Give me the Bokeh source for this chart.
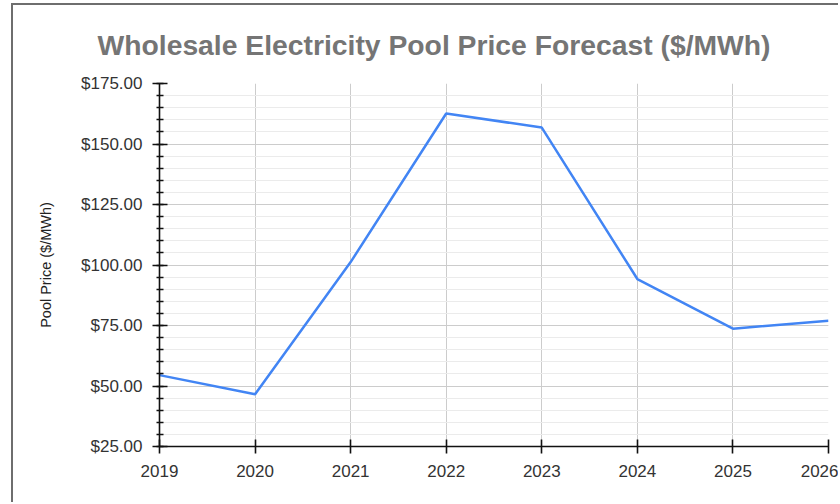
from bokeh.plotting import figure
from bokeh.models import FixedTicker, NumeralTickFormatter, Range1d
from bokeh.embed import file_html
from bokeh.resources import INLINE

years = [2019, 2020, 2021, 2022, 2023, 2024, 2025, 2026]
pool_price = [54.5, 46.6, 101.2, 162.6, 156.8, 94.2, 73.7, 77.0]
y_major_ticks = [25, 50, 75, 100, 125, 150, 175]
y_minor_ticks = [v for v in range(25, 176, 5)]

title_text = "Wholesale Electricity Pool Price Forecast ($/MWh)"
y_label = "Pool Price ($/MWh)"

FONT = "Liberation Sans"

p = figure(width=827, height=499, output_backend="svg", toolbar_location=None,
           x_range=Range1d(2019, 2026), y_range=Range1d(25, 175),
           min_border_left=146, min_border_right=12, min_border_top=78,
           min_border_bottom=58)
p.styles = {"margin-left": "11px", "margin-top": "3px",
            "border-left": "2px solid #6e6e6e",
            "border-top": "2px solid #6e6e6e"}
p.outline_line_color = None
p.background_fill_color = "white"
p.border_fill_color = "white"

p.title.text = title_text
p.title.text_font = FONT
p.title.text_font_size = "28.3px"
p.title.text_font_style = "bold"
p.title.text_color = "#757575"
p.title.align = "left"
p.title.vertical_align = "middle"
p.title.offset = -62
p.title.standoff = 43

p.line(years, pool_price, line_color="#4285F4", line_width=2.5)

# x axis
xa = p.xaxis[0]
xa.ticker = FixedTicker(ticks=years)
xa.major_tick_in = 7
xa.major_tick_out = 7
xa.minor_tick_in = 0
xa.minor_tick_out = 0
xa.axis_line_color = "#111111"
xa.axis_line_width = 1.6
xa.major_tick_line_color = "#111111"
xa.major_tick_line_width = 1.6
xa.major_label_text_font = FONT
xa.major_label_text_font_size = "17px"
xa.major_label_text_color = "#333333"
xa.major_label_standoff = 11

# y axis
ya = p.yaxis[0]
ya.ticker = FixedTicker(ticks=y_major_ticks, minor_ticks=y_minor_ticks)
ya.formatter = NumeralTickFormatter(format="$0.00")
ya.major_tick_in = 8
ya.major_tick_out = 7
ya.minor_tick_in = 4
ya.minor_tick_out = 3
ya.axis_line_color = "#111111"
ya.axis_line_width = 1.6
ya.major_tick_line_color = "#111111"
ya.major_tick_line_width = 1.6
ya.minor_tick_line_color = "#111111"
ya.minor_tick_line_width = 1.4
ya.major_label_text_font = FONT
ya.major_label_text_font_size = "17px"
ya.major_label_text_color = "#333333"
ya.major_label_standoff = 10
ya.axis_label = y_label
ya.axis_label_text_font = FONT
ya.axis_label_text_font_size = "14.5px"
ya.axis_label_text_font_style = "normal"
ya.axis_label_text_color = "#222222"
ya.axis_label_standoff = 24

p.xgrid.grid_line_color = "#cccccc"
p.ygrid.grid_line_color = "#cccccc"
p.ygrid.minor_grid_line_color = "#ebebeb"

open("out.html", "w").write(file_html(p, INLINE))
